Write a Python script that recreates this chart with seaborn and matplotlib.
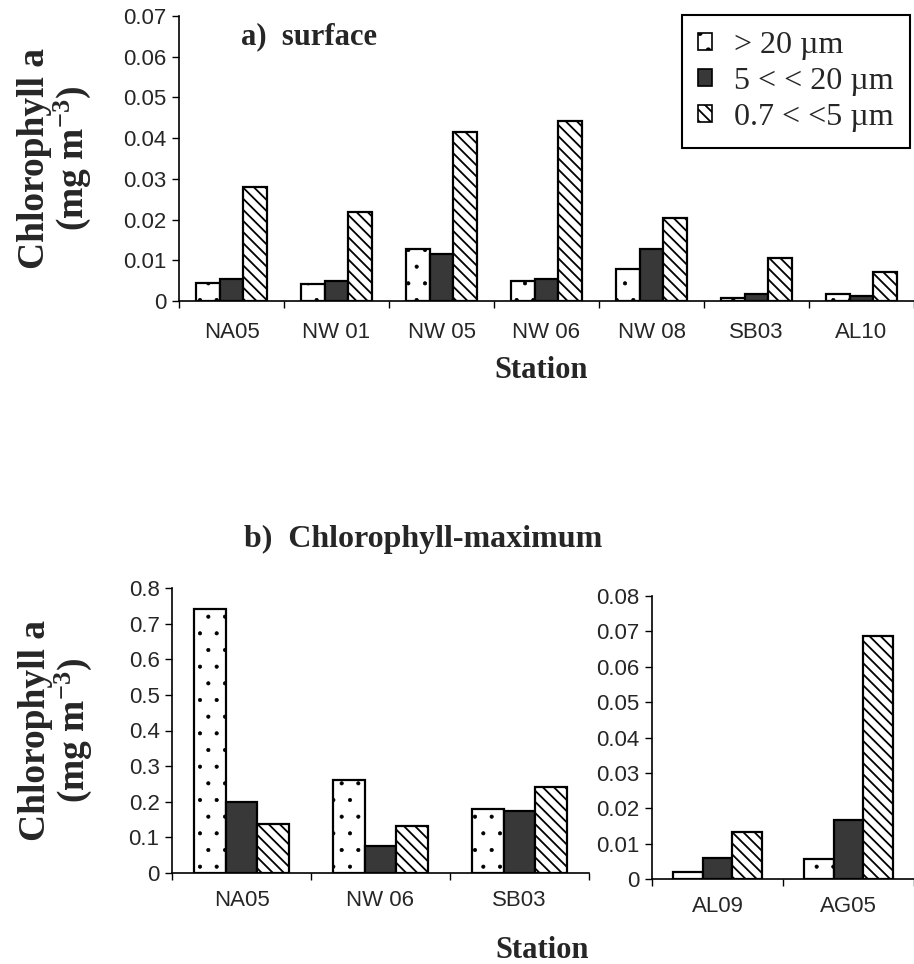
import numpy as np
import pandas as pd
import matplotlib
matplotlib.use("Agg")
import matplotlib.pyplot as plt
from matplotlib.patches import Patch
from matplotlib.ticker import FixedLocator, FuncFormatter
import seaborn as sns

# size fractions (legend labels)
size_classes = ["> 20 µm", "5 < < 20 µm", "0.7 < <5 µm"]

# a) surface
surface_stations = ["NA05", "NW 01", "NW 05", "NW 06", "NW 08", "SB03", "AL10"]
surf_gt20 = [0.0045, 0.0042, 0.0128, 0.0050, 0.0078, 0.0007, 0.0016]
surf_5_20 = [0.0053, 0.0049, 0.0115, 0.0055, 0.0128, 0.0018, 0.0013]
surf_07_5 = [0.0281, 0.0218, 0.0414, 0.0443, 0.0204, 0.0105, 0.0072]

# b) chlorophyll maximum, left panel
cmax_stations = ["NA05", "NW 06", "SB03"]
cmax_gt20 = [0.740, 0.261, 0.180]
cmax_5_20 = [0.200, 0.075, 0.175]
cmax_07_5 = [0.137, 0.132, 0.242]

# b) chlorophyll maximum, right panel
deep_stations = ["AL09", "AG05"]
deep_gt20 = [0.0020, 0.0056]
deep_5_20 = [0.0059, 0.0166]
deep_07_5 = [0.0134, 0.0687]

fills = ["white", "#383838", "white"]
hatches = [".", "", "\\\\\\"]
hatch_lw = [0.5, 1.0, 1.3]

sns.set_style("ticks")
plt.rcParams["font.family"] = ["Liberation Sans", "DejaVu Sans"]
plt.rcParams["hatch.linewidth"] = 1.3
plt.rcParams["mathtext.fontset"] = "custom"
plt.rcParams["mathtext.rm"] = "Liberation Serif:bold"
plt.rcParams["mathtext.it"] = "Liberation Serif:italic:bold"
plt.rcParams["mathtext.bf"] = "Liberation Serif:bold"

serif = ["Liberation Serif", "DejaVu Serif"]


def long_form(stations, a, b, c):
    return pd.DataFrame({
        "station": list(stations) * 3,
        "size": np.repeat(size_classes, len(stations)),
        "chl": list(a) + list(b) + list(c),
    })


def draw(ax, df, stations, ymax, step, fmt, xpad):
    sns.barplot(data=df, x="station", y="chl", hue="size", order=stations,
                hue_order=size_classes, palette=fills, saturation=1,
                width=0.68, edgecolor="black", linewidth=1.6,
                errorbar=None, legend=False, ax=ax)
    for cont, h, hl in zip(ax.containers, hatches, hatch_lw):
        for bar in cont:
            bar.set_hatch(h)
            if hasattr(bar, "set_hatch_linewidth"):
                bar.set_hatch_linewidth(hl)
    n = len(stations)
    ax.set_xlim(-0.5, n - 0.5)
    ax.set_ylim(0, ymax)
    ax.set_yticks(np.arange(0, ymax + step / 2, step))
    ax.yaxis.set_major_formatter(
        FuncFormatter(lambda v, p: "0" if abs(v) < 1e-9 else fmt.format(v)))
    ax.xaxis.set_minor_locator(FixedLocator(np.arange(n + 1) - 0.5))
    ax.tick_params(axis="x", which="major", length=0, pad=xpad, labelsize=16)
    ax.tick_params(axis="x", which="minor", bottom=True, length=5, width=1,
                   direction="out", color="black")
    ax.tick_params(axis="y", left=True, length=5, width=1, direction="out",
                   labelsize=16, pad=4, color="black")
    ax.set_xlabel("")
    ax.set_ylabel("")
    for s in ["top", "right"]:
        ax.spines[s].set_visible(False)
    for s in ["left", "bottom"]:
        ax.spines[s].set_color("black")
        ax.spines[s].set_linewidth(1.2)


fig = plt.figure(figsize=(9.14, 9.64), dpi=100)
W, H = 914, 964


def px_axes(x0, y_top, x1, y_bot):
    return fig.add_axes([x0 / W, 1 - y_bot / H, (x1 - x0) / W, (y_bot - y_top) / H])


ax_top = px_axes(179, 16, 914, 301)
draw(ax_top, long_form(surface_stations, surf_gt20, surf_5_20, surf_07_5),
     surface_stations, 0.07, 0.01, "{:.2f}", 15)

ax_bl = px_axes(172, 588, 589, 873)
draw(ax_bl, long_form(cmax_stations, cmax_gt20, cmax_5_20, cmax_07_5),
     cmax_stations, 0.8, 0.1, "{:.1f}", 12)

ax_br = px_axes(652, 596, 914, 879)
draw(ax_br, long_form(deep_stations, deep_gt20, deep_5_20, deep_07_5),
     deep_stations, 0.08, 0.01, "{:.2f}", 12)

ylab = "Chlorophyll a\n(mg m$^{-3}$)"
for ax, xc in [(ax_top, -0.117), (ax_bl, -0.187)]:
    ax.set_ylabel(ylab, family=serif, fontweight="bold", fontsize=27,
                  linespacing=1.0)
    ax.yaxis.set_label_coords(xc, 0.5)

title_kw = dict(family=serif, fontweight="bold", fontsize=22)
fig.text(241 / W, 1 - 37 / H, "a)  surface", ha="left", va="center", **title_kw)
fig.text(541 / W, 1 - 371 / H, "Station", ha="center", va="center", **title_kw)
fig.text(423 / W, 1 - 539 / H, "b)  Chlorophyll-maximum", ha="center",
         va="center", family=serif, fontweight="bold", fontsize=23)
fig.text(542 / W, 1 - 951 / H, "Station", ha="center", va="center", **title_kw)

handles = [Patch(facecolor=f, edgecolor="black", hatch=h, linewidth=1.2)
           for f, h in zip(fills, hatches)]
leg = fig.legend(handles, size_classes, loc="upper right",
                 bbox_to_anchor=(910 / W, 1 - 15 / H), frameon=True,
                 fancybox=False, edgecolor="black", framealpha=1,
                 prop={"family": serif, "size": 23}, handlelength=0.45,
                 handleheight=0.45, handletextpad=0.7, labelspacing=0.22,
                 borderpad=0.5, borderaxespad=0)
leg.get_frame().set_linewidth(1.5)

fig.savefig("out.png", dpi=100)
